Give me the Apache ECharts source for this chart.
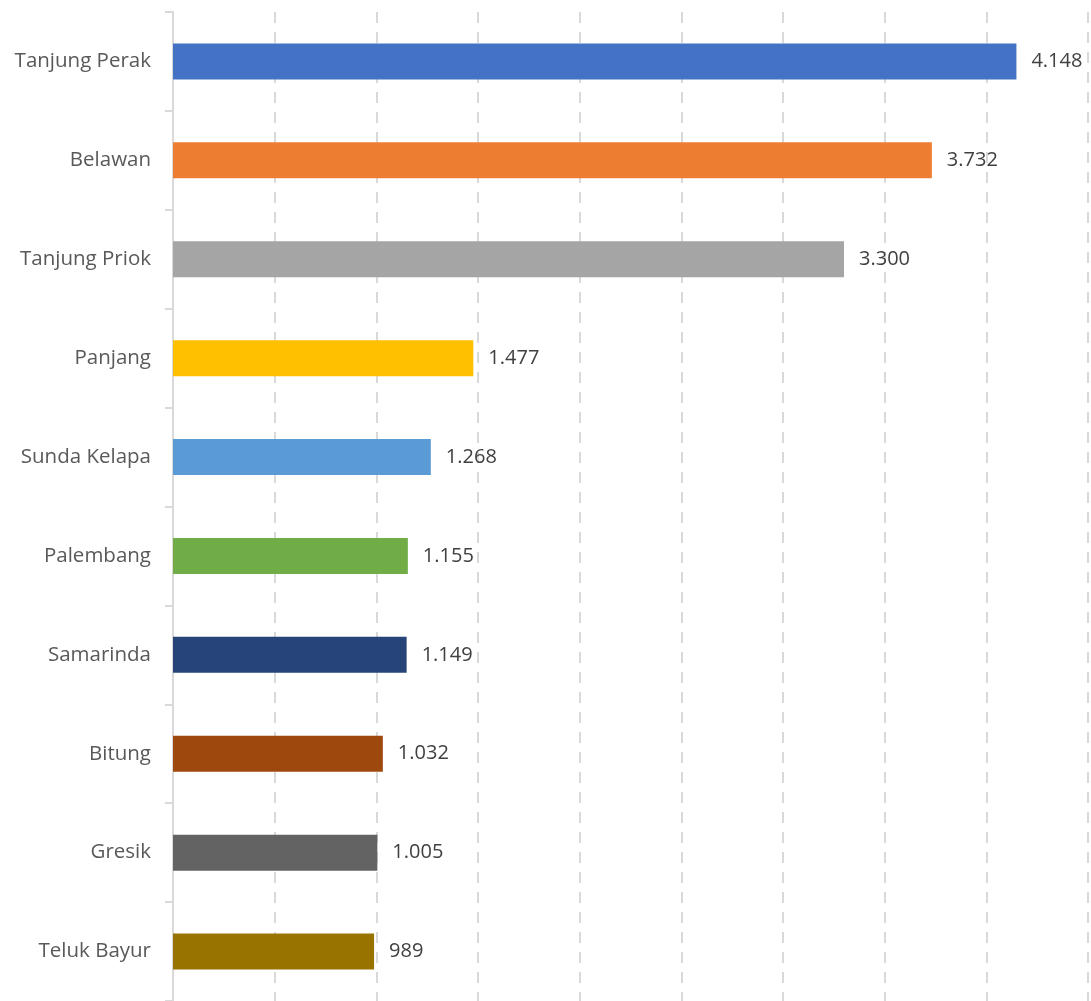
<!DOCTYPE html>
<html><head><meta charset="utf-8">
<script src="https://cdn.jsdelivr.net/npm/echarts@6/dist/echarts.min.js"></script>
<style>html,body{margin:0;padding:0;background:#fff}#c{width:1091px;height:1001px}</style>
</head><body><div id="c"></div>
<script>
const categories = ["Tanjung Perak","Belawan","Tanjung Priok","Panjang","Sunda Kelapa","Palembang","Samarinda","Bitung","Gresik","Teluk Bayur"];
const values = [4148,3732,3300,1477,1268,1155,1149,1032,1005,989];
const colors = ["#4472C4","#ED7D31","#A5A5A5","#FFC000","#5B9BD5","#70AD47","#264478","#9E480E","#636363","#997300"];
const xMin = 0, xMax = 4500, xInterval = 500;

function fmt(v){ return String(v).replace(/\B(?=(\d{3})+(?!\d))/g, "."); }

const chart = echarts.init(document.getElementById('c'));
chart.setOption({
  animation:false,
  grid:{left:173, right:3, top:12, bottom:-3, containLabel:false},
  xAxis:{type:'value', min:xMin, max:xMax, interval:xInterval,
    axisLine:{show:false}, axisTick:{show:false}, axisLabel:{show:false},
    splitLine:{show:true, lineStyle:{color:'#d9d9d9', width:2, type:[11,9]}}},
  yAxis:{type:'category', inverse:true, data:categories,
    axisLine:{show:true, lineStyle:{color:'#d9d9d9', width:2}},
    axisTick:{show:true, length:8, lineStyle:{color:'#d9d9d9', width:2}},
    axisLabel:{color:'#595959', fontFamily:'Open Sans', fontSize:20.5, margin:22}},
  series:[{type:'bar', barWidth:36,
    data: values.map((v,i)=>({value:v, itemStyle:{color:colors[i]}})),
    label:{show:true, position:'right', distance:15, color:'#404040', fontFamily:'Open Sans', fontSize:20,
      formatter:p=>fmt(p.value)}}]
});
</script></body></html>
